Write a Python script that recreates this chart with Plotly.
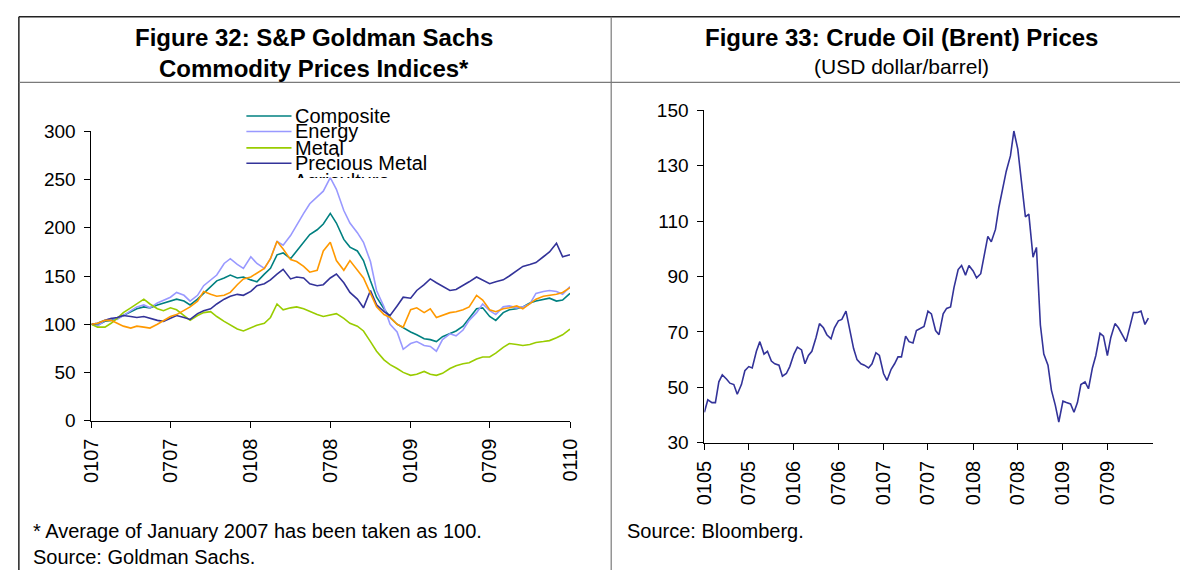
import pandas as pd
import plotly.graph_objects as go

W, H = 1191, 581
FONT = "Liberation Sans, Arial, sans-serif"

# Figure 32: S&P GS commodity indices (Jan 2007 average = 100), semi-monthly readings
gs_dates = pd.date_range("2007-01-01", "2010-01-01", freq="SMS")
composite = [100, 99, 103, 104, 106, 109, 113, 116, 118, 117,
             120, 122, 124, 126, 124, 120, 126, 132, 138, 145,
             148, 151, 148, 149, 146, 144, 152, 158, 172, 174,
             168, 176, 184, 193, 198, 204, 215, 205, 188, 180,
             176, 166, 145, 128, 116, 107, 100, 96, 92, 89,
             85, 84, 82, 87, 90, 93, 98, 106, 116, 117,
             108, 104, 112, 115, 116, 118, 122, 124, 126, 127,
             124, 125, 132]
energy = [100, 98, 104, 106, 105, 109, 114, 118, 120, 117,
          122, 125, 128, 133, 130, 124, 130, 140, 146, 151,
          163, 168, 162, 158, 170, 163, 158, 168, 186, 182,
          192, 203, 215, 225, 232, 238, 252, 240, 218, 205,
          195, 185, 165, 135, 118, 100, 92, 74, 80, 82,
          78, 77, 72, 84, 90, 88, 94, 104, 112, 121,
          114, 110, 118, 119, 117, 118, 121, 132, 134, 135,
          134, 131, 139]
metal = [100, 97, 97, 101, 106, 112, 117, 121, 126, 121,
         116, 114, 117, 115, 109, 104, 109, 112, 113, 108,
         103, 99, 95, 93, 96, 99, 101, 107, 121, 115,
         117, 118, 116, 113, 110, 108, 110, 111, 106, 101,
         98, 93, 82, 72, 63, 58, 54, 50, 47, 48,
         51, 48, 47, 49, 54, 57, 59, 60, 64, 66,
         66, 70, 76, 80, 79, 78, 79, 81, 82, 83,
         86, 89, 95]
precious = [100, 101, 104, 106, 107, 109, 108, 107, 108, 106,
            104, 103, 106, 109, 107, 105, 111, 114, 116, 121,
            126, 129, 131, 130, 134, 140, 142, 146, 152, 157,
            147, 149, 148, 142, 140, 141, 148, 152, 143, 133,
            126, 117, 135, 120, 113, 109, 119, 128, 127, 135,
            141, 147, 143, 139, 135, 136, 140, 144, 149, 146,
            142, 144, 146, 150, 155, 160, 162, 164, 170, 175,
            184, 170, 172]
agriculture = [100, 101, 104, 104, 101, 98, 96, 98, 97, 96,
               100, 104, 108, 110, 114, 118, 124, 134, 131, 129,
               130, 133, 141, 147, 149, 153, 158, 168, 186, 178,
               167, 165, 160, 154, 156, 176, 185, 166, 156, 166,
               156, 148, 132, 118, 110, 107, 100, 97, 115, 117,
               112, 116, 107, 109, 112, 113, 115, 118, 130, 125,
               115, 113, 116, 117, 119, 116, 121, 126, 129, 130,
               131, 133, 138]

# Figure 33: Brent, USD/barrel, semi-monthly readings
brent_dates = pd.date_range("2005-01-01", "2009-12-15", freq="SMS")
brent = [41, 45.5, 44.5, 44.5, 52, 54.5, 53, 51.5, 51, 47.5,
         51, 56, 57.5, 57, 63, 66.5, 62, 63, 59.5, 58.5,
         58, 54, 55, 57.5, 62, 64.5, 63.5, 58.5, 61.5, 63,
         68, 73, 71.5, 69, 67.5, 71.5, 74, 74.5, 77.5, 71,
         64, 60, 58.5, 58, 57, 58.5, 62.5, 61.5, 55, 52.5,
         56.5, 58.5, 61, 61, 68.5, 66.5, 66, 70.5, 71.5, 72,
         77.5, 76.5, 70.5, 69, 76.5, 78.5, 79, 86, 92.5, 94,
         90.5, 94, 92, 89.5, 91, 98, 104.5, 102.5, 107, 115,
         122, 128, 133.5, 142.5, 136, 124.5, 111.5, 112.5, 97, 100.5,
         72.5, 62, 58, 49, 43.5, 37.5, 45, 44.5, 44, 41,
         44.5, 51, 52, 49.5, 57, 61.5, 69.5, 68.5, 61.5, 68,
         73, 71.5, 68.5, 66.5, 72, 77, 77, 77.5, 72.7, 75]
brent_ticks = pd.date_range("2005-01-01", "2009-07-01", freq="6MS")

series = [
    ("Composite", composite, "#008080"),
    ("Energy", energy, "#9999FF"),
    ("Metal", metal, "#99CC00"),
    ("Precious Metal", precious, "#333399"),
    ("Agriculture", agriculture, "#FF9900"),
]


def px(x):
    return x / W


def py(y):
    return 1 - y / H


fig = go.Figure()
for name, vals, color in series:
    fig.add_trace(go.Scatter(x=gs_dates, y=vals, name=name, mode="lines",
                             line=dict(color=color, width=1.6),
                             xaxis="x", yaxis="y"))
fig.add_trace(go.Scatter(x=brent_dates, y=brent, name="Brent", mode="lines",
                         line=dict(color="#333399", width=1.6),
                         xaxis="x2", yaxis="y2"))

axis_style = dict(showline=True, linecolor="black", linewidth=1, ticks="outside",
                  ticklen=6, tickcolor="black", showgrid=False, zeroline=False)
ytick = dict(tickfont=dict(family=FONT, size=19, color="black"), ticklabelstandoff=5)
xtick = dict(tickfont=dict(family=FONT, size=20, color="black"), ticklabelstandoff=3,
             tickangle=-90, tickformat="%m%y", type="date")

fig.update_layout(
    width=W, height=H, margin=dict(l=0, r=0, t=0, b=0),
    paper_bgcolor="white", plot_bgcolor="white", showlegend=False,
    font=dict(family=FONT, color="black"),
    xaxis=dict(domain=[px(81), px(569)], anchor="y",
               range=["2007-01-01", "2010-01-01"], tick0="2007-01-01", dtick="M6",
               **axis_style, **xtick),
    yaxis=dict(domain=[py(426), py(126)], anchor="x", range=[0, 300], dtick=50,
               **axis_style, **ytick),
    xaxis2=dict(domain=[px(706), px(1163)], anchor="y2",
                range=["2005-01-01", "2010-01-01"], tickvals=brent_ticks,
                **axis_style, **xtick),
    yaxis2=dict(domain=[py(449), py(104)], anchor="x2", range=[30, 150],
                tick0=30, dtick=20, **axis_style, **ytick),
)

# panel frame
frame = [
    (7, 7, W, 7, "#222222", 1.5),
    (7, 7, 7, H, "#222222", 1.5),
    (611, 7, 611, H, "#7a7a7a", 1.2),
    (7, 75, W, 75, "#7a7a7a", 1.2),
]
for x0, y0, x1, y1, c, w in frame:
    fig.add_shape(type="line", xref="paper", yref="paper",
                  x0=px(x0), y0=py(y0), x1=px(x1), y1=py(y1),
                  line=dict(color=c, width=w))

# legend of figure 32 (the last entry is cut off in the original)
leg_y = [110, 126, 143, 159]
for (name, _, color), y in zip(series[:4], leg_y):
    fig.add_shape(type="line", xref="paper", yref="paper",
                  x0=px(239), x1=px(285), y0=py(y), y1=py(y),
                  line=dict(color=color, width=1.6))
    fig.add_annotation(text=name, xref="paper", yref="paper", x=px(287), y=py(y),
                       xanchor="left", yanchor="middle", showarrow=False,
                       font=dict(size=20))
fig.add_annotation(text="Agriculture", xref="paper", yref="paper", x=px(287), y=py(165),
                   xanchor="left", yanchor="top", valign="top", height=8, borderpad=0,
                   showarrow=False, font=dict(size=20))

texts = [
    ("<b>Figure 32: S&P Goldman Sachs</b>", 308, 29, "center", 24),
    ("<b>Commodity Prices Indices*</b>", 308, 61, "center", 24),
    ("<b>Figure 33: Crude Oil (Brent) Prices</b>", 907, 29, "center", 24),
    ("(USD dollar/barrel)", 907, 59, "center", 21),
    ("* Average of January 2007 has been taken as 100.", 19, 541, "left", 20),
    ("Source: Goldman Sachs.", 19, 568, "left", 20),
    ("Source: Bloomberg.", 625, 541, "left", 20),
]
for t, x, y, anchor, size in texts:
    fig.add_annotation(text=t, xref="paper", yref="paper", x=px(x), y=py(y),
                       xanchor=anchor, yanchor="middle", showarrow=False,
                       font=dict(size=size))

# drop the default page margin so the figure sits at the window origin
fig.write_html("out.html", config={"displayModeBar": False},
               post_script="document.body.style.margin='0';")
